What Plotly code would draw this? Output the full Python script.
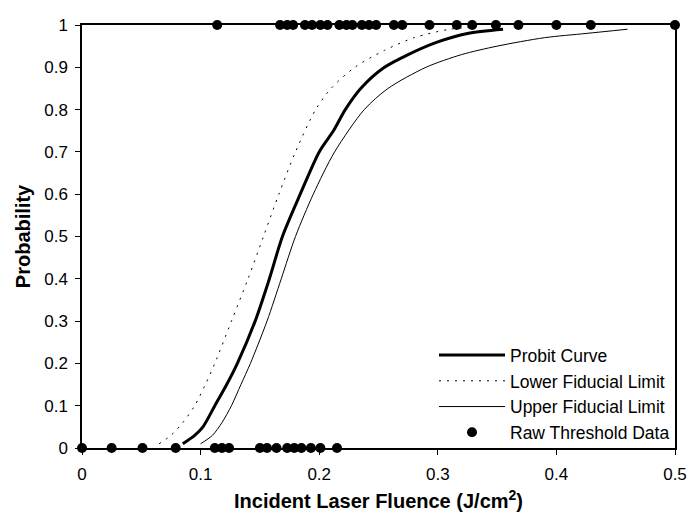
import plotly.graph_objects as go

# Raw threshold data (fluence J/cm^2, response 0/1)
raw_x_hit = [0.114, 0.167, 0.173, 0.178, 0.188, 0.194, 0.201, 0.207, 0.217, 0.223,
             0.228, 0.236, 0.242, 0.248, 0.263, 0.270, 0.293, 0.316, 0.329, 0.349,
             0.368, 0.400, 0.429, 0.500]
raw_x_miss = [0.0, 0.025, 0.051, 0.079, 0.112, 0.118, 0.124, 0.150, 0.156, 0.164,
              0.173, 0.179, 0.185, 0.193, 0.201, 0.215]

# Probit curve
probit_x = [0.085, 0.095, 0.102, 0.112, 0.122, 0.131, 0.146, 0.158, 0.169, 0.184,
            0.200, 0.212, 0.222, 0.235, 0.255, 0.275, 0.300, 0.325, 0.355]
probit_y = [0.01, 0.03, 0.05, 0.10, 0.15, 0.20, 0.30, 0.40, 0.50, 0.60,
            0.70, 0.75, 0.80, 0.85, 0.90, 0.93, 0.96, 0.98, 0.99]

lower_x = [0.065, 0.075, 0.085, 0.095, 0.104, 0.112, 0.126, 0.140, 0.153, 0.166,
           0.180, 0.197, 0.210, 0.230, 0.255, 0.280, 0.310, 0.330]
lower_y = [0.01, 0.03, 0.06, 0.10, 0.15, 0.20, 0.30, 0.40, 0.50, 0.60,
           0.70, 0.80, 0.85, 0.90, 0.94, 0.97, 0.99, 0.995]

upper_x = [0.100, 0.110, 0.118, 0.126, 0.134, 0.142, 0.156, 0.168, 0.180, 0.195,
           0.213, 0.238, 0.258, 0.290, 0.320, 0.350, 0.390, 0.425, 0.460]
upper_y = [0.01, 0.03, 0.06, 0.10, 0.15, 0.20, 0.30, 0.40, 0.50, 0.60,
           0.70, 0.80, 0.85, 0.90, 0.93, 0.95, 0.97, 0.98, 0.99]

x_ticks = [0, 0.1, 0.2, 0.3, 0.4, 0.5]
x_tick_labels = ["0", "0.1", "0.2", "0.3", "0.4", "0.5"]
y_ticks = [0, 0.1, 0.2, 0.3, 0.4, 0.5, 0.6, 0.7, 0.8, 0.9, 1]
y_tick_labels = ["0", "0.1", "0.2", "0.3", "0.4", "0.5", "0.6", "0.7", "0.8", "0.9", "1"]

fig = go.Figure()
fig.add_trace(go.Scatter(x=probit_x, y=probit_y, mode="lines", name="Probit Curve",
                         line=dict(color="black", width=3, shape="spline", smoothing=0.8)))
fig.add_trace(go.Scatter(x=lower_x, y=lower_y, mode="lines", name="Lower Fiducial Limit",
                         line=dict(color="black", width=1, dash="2px,6px",
                                   shape="spline", smoothing=0.8)))
fig.add_trace(go.Scatter(x=upper_x, y=upper_y, mode="lines", name="Upper Fiducial Limit",
                         line=dict(color="black", width=1, shape="spline", smoothing=0.8)))
fig.add_trace(go.Scatter(x=raw_x_miss + raw_x_hit,
                         y=[0] * len(raw_x_miss) + [1] * len(raw_x_hit),
                         mode="markers", name="Raw Threshold Data",
                         marker=dict(color="black", size=10), cliponaxis=False))

fig.update_layout(
    width=695, height=527,
    margin=dict(l=74, r=28, t=8, b=87),
    paper_bgcolor="white", plot_bgcolor="white",
    font=dict(family="Liberation Sans, Arial, sans-serif", color="black", size=17),
    showlegend=True,
    legend=dict(x=1.0, y=0.262, xanchor="right", yanchor="top",
                bgcolor="rgba(0,0,0,0)", font=dict(size=17.5), tracegroupgap=0,
                itemwidth=66),
    xaxis=dict(range=[0, 0.5], tickvals=x_ticks, ticktext=x_tick_labels,
               showgrid=False, zeroline=False, showline=True, linecolor="black",
               linewidth=1.5, mirror=True, ticks="outside", ticklen=5,
               tickcolor="black", ticklabelstandoff=5,
               title=dict(text="<b>Incident Laser Fluence (J/cm<sup>2</sup>)</b>",
                          font=dict(size=20), standoff=11)),
    yaxis=dict(range=[0, 1], tickvals=y_ticks, ticktext=y_tick_labels,
               showgrid=False, zeroline=False, showline=True, linecolor="black",
               linewidth=1.5, mirror=True, ticks="outside", ticklen=5,
               tickcolor="black", ticklabelstandoff=4,
               title=dict(text="<b>Probability</b>", font=dict(size=20), standoff=8)),
)

fig.write_html("out.html")
